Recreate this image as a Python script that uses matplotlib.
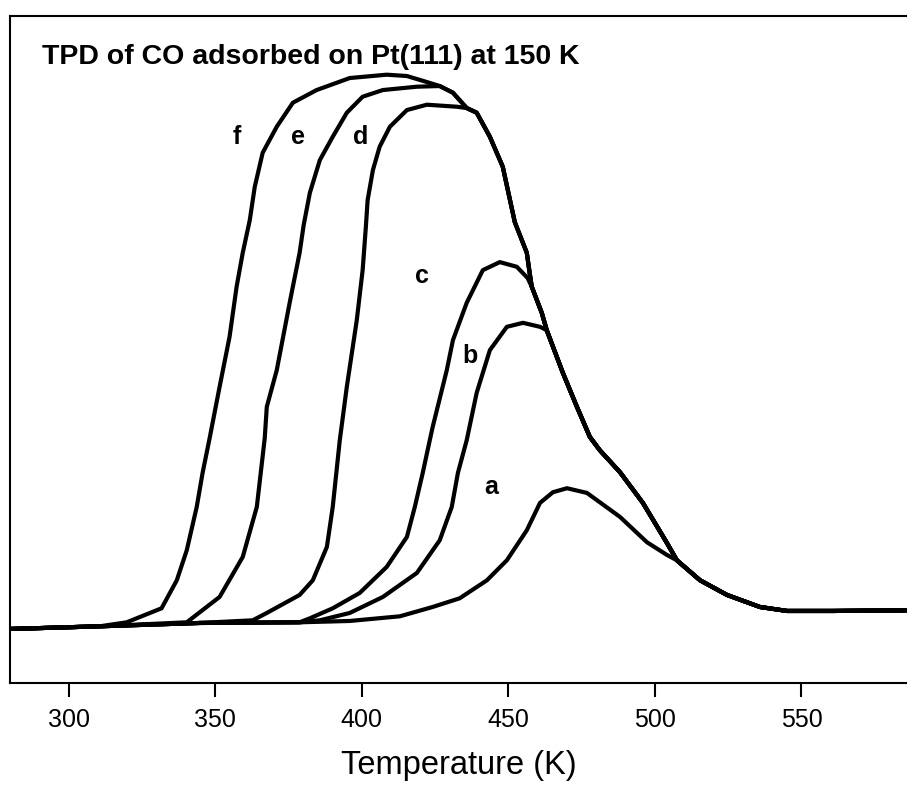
import numpy as np
import matplotlib
matplotlib.use("Agg")
import matplotlib.pyplot as plt

plt.rcParams['font.family'] = ['Liberation Sans', 'DejaVu Sans']

# shared pieces of the traces (temperature in K, intensity in arb. units)
base_T = [279.9, 310.6, 344.7, 378.8, 395.9]
base_I = [8.1, 8.5, 9.0, 9.1, 9.3]

# descending edge shared by d, e, f after they merge
top_T = [439.2, 443.7, 448.1, 452.2, 456.3, 457.3, 458.0, 461.4]
top_I = [85.5, 81.9, 77.4, 69.1, 64.5, 61.4, 59.4, 55.5]

# descending edge shared by b..f
upper_T = [463.1, 468.6, 473.4, 477.8, 481.2, 488.1, 495.9, 504.1]
upper_I = [52.9, 46.5, 41.4, 36.9, 34.9, 31.6, 27.0, 21.0]

# tail shared by all
tail_T = [507.5, 515.4, 524.6, 535.8, 545.1, 560.8, 586.0]
tail_I = [18.4, 15.4, 13.2, 11.4, 10.8, 10.8, 10.9]

a_T = [413.0, 424.2, 433.4, 442.7, 449.5, 456.3, 460.8, 465.2, 470.0, 476.8,
       481.2, 488.1, 497.3, 504.1]
a_I = [10.0, 11.4, 12.7, 15.4, 18.4, 22.9, 27.0, 28.6, 29.2, 28.5,
       27.1, 24.9, 21.1, 19.2]

b_T = [385.7, 395.9, 407.2, 418.8, 426.6, 430.7, 432.8, 435.8, 439.2, 443.7,
       449.5, 455.0, 460.8]
b_I = [9.4, 10.5, 12.9, 16.5, 21.4, 26.4, 31.5, 36.4, 43.5, 49.9,
       53.4, 54.0, 53.4]

c_T = [382.3, 390.1, 399.3, 408.5, 415.4, 418.1, 420.8, 423.2, 424.2, 429.0,
       431.1, 435.8, 441.3, 447.1, 452.9, 456.6]
c_I = [9.7, 11.2, 13.5, 17.4, 21.9, 26.4, 31.5, 36.4, 38.4, 46.9,
       51.4, 57.0, 61.9, 63.1, 62.4, 60.7]

d_T = [362.8, 367.6, 378.8, 383.3, 388.1, 390.1, 392.5, 394.9, 398.3, 400.3,
       401.4, 402.0, 403.8, 406.1, 409.6, 415.4, 422.2, 432.4, 435.8]
d_I = [9.4, 10.5, 13.2, 15.4, 20.4, 26.4, 36.4, 44.4, 54.4, 61.9,
       68.4, 72.4, 76.9, 80.4, 83.4, 85.9, 86.7, 86.4, 86.2]

e_T = [340.3, 351.5, 359.4, 364.2, 366.9, 367.6, 371.0, 375.4, 378.8, 380.2,
       382.3, 385.7, 390.1, 394.9, 400.3, 407.2, 418.8, 426.6, 431.1, 435.8]
e_I = [9.1, 12.9, 18.9, 26.4, 36.7, 41.4, 46.9, 57.0, 64.5, 68.7,
       73.5, 78.4, 81.9, 85.5, 87.9, 88.9, 89.4, 89.5, 88.5, 86.2]

f_T = [319.8, 331.7, 336.9, 340.3, 343.7, 345.7, 348.1, 351.5, 354.9, 357.3,
       359.4, 361.8, 363.5, 366.2, 371.0, 376.5, 384.6, 395.9, 408.5, 415.4,
       422.2, 426.6, 431.1, 435.8]
f_I = [9.1, 11.2, 15.4, 19.9, 26.4, 31.5, 36.7, 44.4, 51.9, 59.4,
       64.5, 69.4, 74.4, 79.5, 83.4, 87.0, 88.9, 90.7, 91.2, 91.0,
       90.1, 89.5, 88.5, 86.2]

labels = ['a', 'b', 'c', 'd', 'e', 'f']
label_T = [444.0, 436.9, 420.5, 399.7, 378.2, 357.3]
label_I = [29.4, 49.1, 61.0, 81.9, 81.9, 81.9]


def join(seg_T, seg_I, *rest):
    # baseline before the curve lifts off, then the curve, then shared edges
    T = [t for t in base_T if t < seg_T[0]] + list(seg_T)
    I = [i for t, i in zip(base_T, base_I) if t < seg_T[0]] + list(seg_I)
    for rT, rI in rest:
        T += list(rT)
        I += list(rI)
    return T, I


curves = [
    join(a_T, a_I, (tail_T, tail_I)),
    join(b_T, b_I, (upper_T, upper_I), (tail_T, tail_I)),
    join(c_T, c_I, (top_T[6:], top_I[6:]), (upper_T, upper_I), (tail_T, tail_I)),
    join(d_T, d_I, (top_T, top_I), (upper_T, upper_I), (tail_T, tail_I)),
    join(e_T, e_I, (top_T, top_I), (upper_T, upper_I), (tail_T, tail_I)),
    join(f_T, f_I, (top_T, top_I), (upper_T, upper_I), (tail_T, tail_I)),
]

fig = plt.figure(figsize=(9.07, 7.86), dpi=100)
ax = fig.add_axes([10 / 907, 103 / 786, 897 / 907, 667 / 786])

for T, I in curves:
    ax.plot(T, I, color='black', lw=3, solid_joinstyle='round', solid_capstyle='round')

for lab, t, i in zip(labels, label_T, label_I):
    ax.text(t, i, lab, fontsize=18, fontweight='bold', ha='center', va='center')

ax.text(290.8, 93.9, 'TPD of CO adsorbed on Pt(111) at 150 K',
        fontsize=20.5, fontweight='bold', ha='left', va='center')

ax.set_xlim(280, 586)
ax.set_ylim(0, 100)
ax.set_xticks([300, 350, 400, 450, 500, 550])
ax.set_yticks([])
ax.tick_params(axis='x', direction='out', length=10, width=1.5, labelsize=18, pad=8)
ax.spines['right'].set_visible(False)
for s in ['left', 'top', 'bottom']:
    ax.spines[s].set_linewidth(1.5)
ax.set_xlabel('Temperature (K)', fontsize=23.5, labelpad=13)

fig.savefig('out.png', dpi=100)
